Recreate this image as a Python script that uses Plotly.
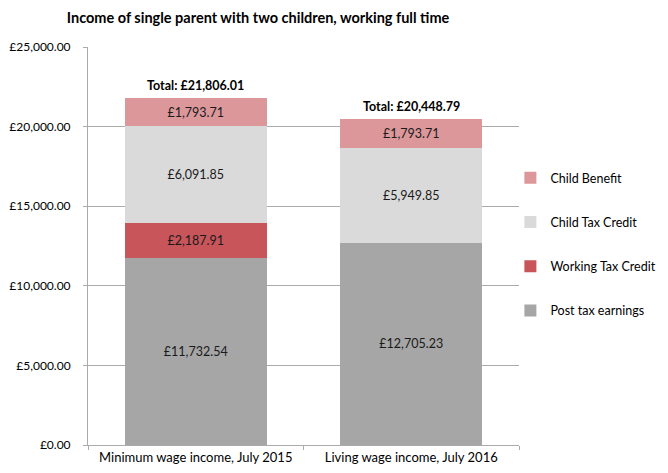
import plotly.graph_objects as go

categories = ["Minimum wage income, July 2015", "Living wage income, July 2016"]
series_names = ["Post tax earnings", "Working Tax Credit", "Child Tax Credit", "Child Benefit"]
post_tax = [11732.54, 12705.23]
working_tax_credit = [2187.91, 0]
child_tax_credit = [6091.85, 5949.85]
child_benefit = [1793.71, 1793.71]
totals = [21806.01, 20448.79]

colors = ["#a6a6a6", "#c8555a", "#dadada", "#dc979b"]
FONT = "Lato, 'Open Sans', sans-serif"


def money(v):
    return "" if v == 0 else f"£{v:,.2f}"


fig = go.Figure()
series_values = [post_tax, working_tax_credit, child_tax_credit, child_benefit]
for i, (name, vals) in enumerate(zip(series_names, series_values)):
    fig.add_trace(
        go.Bar(
            name=name,
            x=categories,
            y=vals,
            text=[money(v) for v in vals],
            textposition="inside",
            insidetextanchor="middle",
            textfont=dict(color="#1a1a1a", size=12.5, family=FONT),
            marker=dict(color=colors[i], line=dict(width=0)),
            legendgroup=name,
            legendrank=len(series_names) - i,  # top of stack first in legend
            hoverinfo="skip",
        )
    )

for cat, tot in zip(categories, totals):
    fig.add_annotation(
        x=cat,
        y=tot,
        text=f"<b>Total: £{tot:,.2f}</b>",
        showarrow=False,
        yanchor="bottom",
        yshift=3,
        font=dict(size=12.5, color="black", family=FONT),
    )

fig.update_layout(
    barmode="stack",
    bargap=0.34,
    width=668,
    height=473,
    paper_bgcolor="white",
    plot_bgcolor="white",
    margin=dict(l=88, r=149, t=47, b=28, autoexpand=False),
    font=dict(family=FONT, size=12, color="black"),
    title=dict(
        text="<b>Income of single parent with two children, working full time</b>",
        x=0.1,
        xanchor="left",
        y=0.962,
        yanchor="middle",
        font=dict(size=14.5, family=FONT, color="black"),
    ),
    legend=dict(
        traceorder="grouped",
        x=0.98,
        xanchor="left",
        y=0.708,
        yanchor="top",
        tracegroupgap=25,
        font=dict(size=12.5, family=FONT),
        itemclick=False,
        bgcolor="rgba(0,0,0,0)",
    ),
    showlegend=True,
)

fig.update_yaxes(
    range=[0, 25000],
    dtick=5000,
    tickprefix="£",
    tickformat=",.2f",
    showgrid=True,
    gridcolor="#ababab",
    gridwidth=1,
    showline=True,
    linecolor="#ababab",
    ticks="outside",
    ticklen=4,
    tickcolor="#ababab",
    ticklabelstandoff=10,
    zeroline=False,
    tickfont=dict(size=12, family=FONT),
)
fig.update_xaxes(
    showline=True,
    linecolor="#ababab",
    ticks="outside",
    tickson="boundaries",
    ticklen=4,
    tickcolor="#ababab",
    tickfont=dict(size=13, family=FONT),
)

# drop the default page margin so the chart sits at the window's corner
fig.write_html(
    "out.html",
    config={"displayModeBar": False},
    post_script="document.body.style.margin='0';",
)
